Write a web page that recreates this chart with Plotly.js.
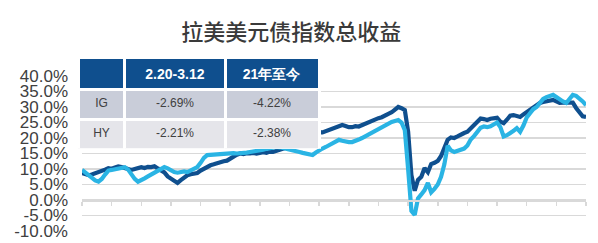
<!DOCTYPE html>
<html>
<head>
<meta charset="utf-8">
<script src="https://cdn.plot.ly/plotly-3.0.1.min.js"></script>
<style>html,body{margin:0;padding:0;background:#fff;}#chart{width:598px;height:243px;}</style>
</head>
<body>
<div id="chart"></div>
<script>
// Weekly index (0 = start of series, 153 = 2021-03-12)
var weeks = [];
for (var w = 0; w <= 153; w++) weeks.push(w);

// Darker blue series (%)
var seriesDark = [
8.7,8.3,8.0,8.2,8.6,8.7,9.3,9.8,10.3,10.1,
10.5,10.8,10.6,10.2,9.9,9.7,10.0,10.4,10.6,10.3,
10.7,10.6,10.9,10.2,9.7,8.9,7.6,6.8,6.0,5.5,
6.4,7.4,8.0,8.3,8.5,8.7,9.5,10.1,10.6,11.2,
11.5,11.9,12.1,12.5,12.7,13.2,14.0,14.6,15.0,14.8,
15.1,15.0,15.2,15.0,15.3,15.4,15.2,15.6,15.5,15.8,
16.0,16.4,16.8,17.2,17.9,18.5,19.0,19.6,20.0,20.5,
21.0,21.5,21.9,21.8,22.2,22.5,22.9,23.1,23.6,24.2,
23.9,23.5,23.5,23.8,23.7,24.2,24.6,25.2,25.5,25.9,
26.4,26.7,27.1,27.8,28.3,29.2,30.0,29.6,29.0,22.0,
8.0,3.0,6.5,7.5,10.3,9.0,11.6,12.0,12.6,14.2,
17.0,19.4,20.2,20.0,20.5,21.2,21.6,22.0,23.0,24.3,
25.2,26.3,26.1,25.8,26.2,26.4,26.5,25.3,24.8,25.9,
27.2,27.4,27.0,26.8,27.6,28.4,29.3,30.0,30.6,31.3,
31.6,31.9,32.2,32.3,31.8,31.3,31.4,31.3,31.2,31.4,
29.7,28.2,27.0,26.8
];

// Lighter blue series (%)
var seriesLight = [
9.7,8.9,8.0,7.0,6.3,5.9,6.8,8.2,9.5,9.7,
10.0,10.2,10.5,10.6,9.8,8.2,6.8,5.9,6.3,7.0,
7.6,8.2,8.6,9.4,10.0,10.6,10.2,9.5,9.0,8.8,
9.0,9.2,9.0,9.6,10.3,10.6,12.0,13.6,14.5,14.6,
14.8,14.9,15.0,14.8,15.0,15.2,15.1,15.0,15.0,15.2,
15.3,15.5,15.6,15.8,16.0,16.2,16.5,16.8,17.0,17.1,
17.0,16.8,16.5,16.2,16.0,15.8,15.5,15.2,14.9,14.6,
14.5,15.3,16.1,16.6,17.1,17.7,18.2,18.8,19.4,19.1,
18.8,18.7,18.7,19.0,19.5,20.0,20.6,21.3,21.9,22.4,
23.0,23.5,24.0,24.7,25.2,25.5,25.8,25.0,22.5,10.0,
-3.5,-4.8,0.5,1.8,3.2,5.5,2.5,3.6,5.0,7.5,
11.5,17.5,16.0,15.5,15.8,16.1,16.6,17.6,19.5,20.6,
21.8,23.3,23.7,23.5,23.8,24.6,25.0,23.5,20.5,20.9,
21.5,22.3,23.2,22.0,24.0,26.6,28.0,29.3,30.0,31.3,
32.6,33.2,33.7,33.9,33.2,32.3,31.8,31.3,32.5,33.9,
33.6,32.9,31.8,30.6
];

// Y ticks
var yTickVals = [-10,-5,0,5,10,15,20,25,30,35,40];
var yTickText = ["-10.0%","-5.0%","0.0%","5.0%","10.0%","15.0%","20.0%","25.0%","30.0%","35.0%","40.0%"];

// Table content
var tableHeader = ["", "<b>2.20-3.12</b>", "<b>21年至今</b>"];
var tableRows = ["IG", "HY"];
var colPeriod = ["-2.69%", "-2.21%"];
var colYTD = ["-4.22%", "-2.38%"];

var titleText = "拉美美元债指数总收益";

var darkBlue = "#0f4f8e";
var lightBlue = "#2ab4e4";
var gridCol = "#d9d9d9";

var traces = [
  {x: weeks, y: seriesDark, type: "scatter", mode: "lines",
   line: {color: darkBlue, width: 4.2}, hoverinfo: "skip", xaxis: "x", yaxis: "y"},
  {x: weeks, y: seriesLight, type: "scatter", mode: "lines",
   line: {color: lightBlue, width: 4.2}, hoverinfo: "skip", xaxis: "x", yaxis: "y"},
  {type: "table",
   domain: {x: [0, 0.476], y: [0.47, 0.99]},
   columnwidth: [46, 98, 92],
   header: {values: tableHeader, fill: {color: darkBlue},
            line: {color: "#ffffff", width: 3}, align: "center", height: 26,
            font: {family: "Liberation Sans, Arial, sans-serif", size: 14, color: "#ffffff"}},
   cells: {values: [tableRows, colPeriod, colYTD],
           fill: {color: [["#c9cdd9", "#e5e5ea"], ["#c9cdd9", "#e5e5ea"], ["#c9cdd9", "#e5e5ea"]]},
           line: {color: "#ffffff", width: 3}, align: "center", height: 30,
           font: {family: "Liberation Sans, Arial, sans-serif", size: 12, color: "#404040"}}
  }
];

var layout = {
  width: 598, height: 243,
  margin: {l: 78, r: 12, t: 56, b: 12, pad: 0},
  paper_bgcolor: "#ffffff", plot_bgcolor: "#ffffff",
  showlegend: false,
  title: {text: titleText, x: 0.487, xanchor: "center", xref: "container",
          y: 0.868, yanchor: "middle", yref: "container",
          font: {family: "Noto Sans CJK SC, sans-serif", size: 22, weight: 500, color: "#3a3a3a"}},
  xaxis: {domain: [0.0079, 1], range: [0, 153], anchor: "free", position: 0.1771,
          showgrid: false, zeroline: false, showline: true, linecolor: gridCol, linewidth: 1.5,
          ticks: "outside", ticklen: 4, tickwidth: 1.5, tickcolor: gridCol,
          tick0: 0, dtick: 9, showticklabels: false},
  yaxis: {domain: [0, 0.8857], range: [-10, 40], tickvals: yTickVals, ticktext: yTickText,
          showgrid: true, gridcolor: gridCol, gridwidth: 1.5, zeroline: false,
          showline: false, ticks: "", ticklabelstandoff: 13,
          tickfont: {family: "Liberation Sans, Arial, sans-serif", size: 17, color: "#404040"}}
};

Plotly.newPlot("chart", traces, layout, {displayModeBar: false, staticPlot: true});
</script>
</body>
</html>
